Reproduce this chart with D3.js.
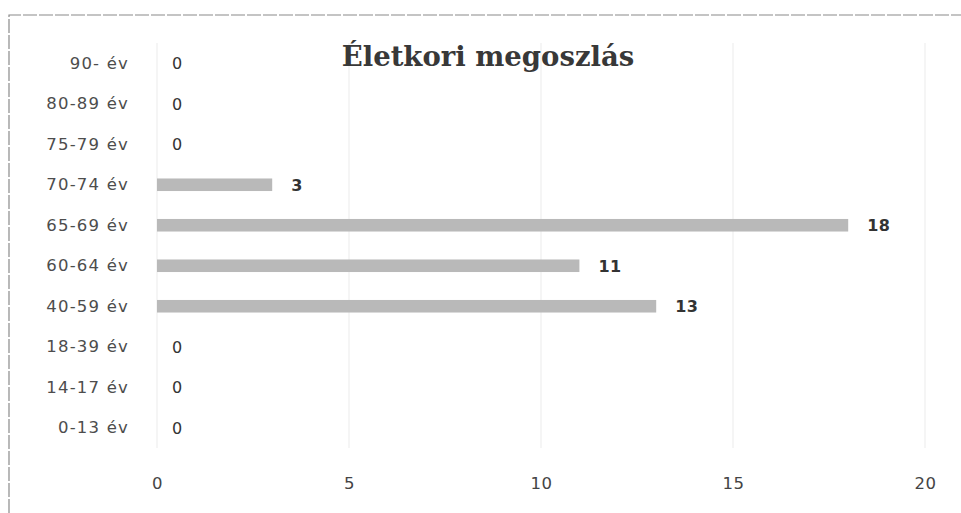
<!DOCTYPE html>
<html>
<head>
  <meta charset="utf-8">
  <script src="https://d3js.org/d3.v7.min.js"></script>
  <style>
    body { margin: 0; background: #fff; }
  </style>
</head>
<body>
  <div id="chart"></div>
<script>
  // data (top row first)
  var ageGroups = ["90- év", "80-89 év", "75-79 év", "70-74 év", "65-69 év",
                   "60-64 év", "40-59 év", "18-39 év", "14-17 év", "0-13 év"];
  var counts = [0, 0, 0, 3, 18, 11, 13, 0, 0, 0];
  var xTicks = [0, 5, 10, 15, 20];
  var title = "Életkori megoszlás";

  var data = ageGroups.map(function (g, i) { return { group: g, value: counts[i] }; });

  var W = 961, H = 513;
  var margin = { top: 43, right: 36, bottom: 65, left: 157 };
  var width = W - margin.left - margin.right,
      height = H - margin.top - margin.bottom;

  var font = "'DejaVu Sans', sans-serif";

  var svg = d3.select("#chart").append("svg")
    .attr("width", W)
    .attr("height", H);

  // frame of the scanned chart (only top and left edges show)
  svg.append("path")
    .attr("d", "M9," + H + " V15 H" + W)
    .attr("fill", "none")
    .attr("stroke", "#8a8a8a")
    .attr("stroke-width", 1.2)
    .attr("stroke-dasharray", "14,2");

  var g = svg.append("g")
    .attr("transform", "translate(" + margin.left + "," + margin.top + ")");

  var x = d3.scaleLinear().domain([0, 20]).range([0, width]);
  var y = d3.scaleBand().domain(ageGroups).range([0, height]).paddingInner(0.69).paddingOuter(0.345);

  // gridlines
  g.selectAll(".grid")
    .data(xTicks)
    .enter().append("line")
      .attr("class", "grid")
      .attr("x1", function (d) { return x(d); })
      .attr("x2", function (d) { return x(d); })
      .attr("y1", 0)
      .attr("y2", height)
      .attr("stroke", "#ebebeb")
      .attr("stroke-width", 1);

  // bars
  g.selectAll(".bar")
    .data(data)
    .enter().append("rect")
      .attr("class", "bar")
      .attr("x", x(0))
      .attr("y", function (d) { return y(d.group); })
      .attr("width", function (d) { return x(d.value) - x(0); })
      .attr("height", y.bandwidth())
      .attr("fill", "#b9b9b9");

  // value labels
  g.selectAll(".val")
    .data(data)
    .enter().append("text")
      .attr("class", "val")
      .attr("x", function (d) { return d.value > 0 ? x(d.value) + 19 : x(0) + 15; })
      .attr("y", function (d) { return y(d.group) + y.bandwidth() / 2; })
      .attr("dy", "0.36em")
      .attr("font-family", font)
      .attr("font-size", 16)
      .attr("letter-spacing", 0.5)
      .attr("font-weight", function (d) { return d.value > 0 ? "bold" : "normal"; })
      .attr("fill", "#333")
      .text(function (d) { return d.value; });

  // category axis (labels only)
  var yAxis = g.append("g")
    .attr("transform", "translate(-28,0)")
    .call(d3.axisLeft(y).tickSize(0).tickPadding(0));
  yAxis.select(".domain").remove();
  yAxis.selectAll("text")
    .attr("font-family", font)
    .attr("font-size", 16.5)
    .attr("letter-spacing", 1.2)
    .attr("fill", "#4d4d4d");

  // value axis (labels only)
  var xAxis = g.append("g")
    .attr("transform", "translate(0," + height + ")")
    .call(d3.axisBottom(x).tickValues(xTicks).tickSize(0).tickPadding(29));
  xAxis.select(".domain").remove();
  xAxis.selectAll("text")
    .attr("font-family", font)
    .attr("font-size", 16.5)
    .attr("letter-spacing", 0.5)
    .attr("fill", "#444");

  // title
  svg.append("text")
    .attr("x", 488)
    .attr("y", 66)
    .attr("text-anchor", "middle")
    .attr("font-family", "'DejaVu Serif', serif")
    .attr("font-weight", "bold")
    .attr("font-size", 27.5)
    .attr("fill", "#383838")
    .text(title);
</script>
</body>
</html>
